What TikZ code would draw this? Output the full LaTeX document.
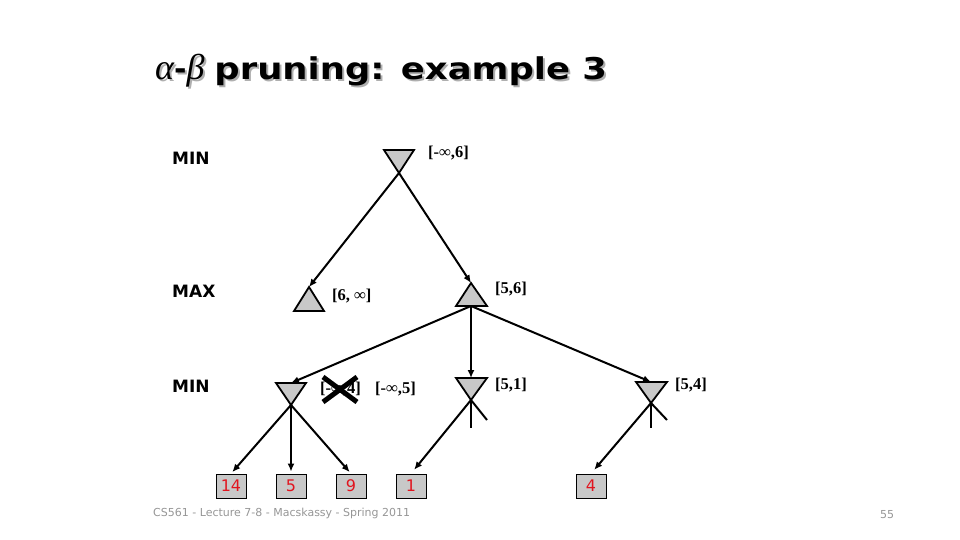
\documentclass[tikz,border=0pt]{standalone}
\usepackage{fontspec}
\setmainfont{DejaVu Sans}
\newfontfamily\tnr{Liberation Serif}
\usetikzlibrary{arrows.meta}
\definecolor{nodegray}{RGB}{200,200,200}
\definecolor{footgray}{RGB}{150,150,150}
\definecolor{leafred}{RGB}{225,20,30}
\definecolor{shadowgray}{RGB}{175,175,175}
\newcommand{\titletext}{{\tnr\itshape\fontsize{36}{36}\selectfont α}{\bfseries\fontsize{30}{30}\selectfont -}{\tnr\itshape\fontsize{36}{36}\selectfont β}\hspace{10pt}\scalebox{1.18}[1]{\bfseries\fontsize{30}{30}\selectfont pruning: example 3}}
\begin{document}
\begin{tikzpicture}[x=1pt,y=-1pt,
 tri/.style={draw=black,line width=1.8pt,fill=nodegray,line join=miter},
 edge/.style={draw=black,line width=2pt,-{Latex[length=8pt,width=7pt]}},
 stub/.style={draw=black,line width=2pt},
 leaf/.style={draw=black,line width=0.8pt,fill=nodegray,minimum width=30pt,minimum height=24pt,inner sep=0pt,text=leafred,font=\fontsize{16}{16}\selectfont},
 bound/.style={anchor=west,inner sep=0pt,font=\tnr\bfseries\fontsize{16.5}{16.5}\selectfont},
 level/.style={anchor=west,inner sep=0pt,font=\bfseries\fontsize{17}{17}\selectfont},
 foot/.style={anchor=west,inner sep=0pt,text=footgray,font=\fontsize{11}{11}\selectfont},
]
\useasboundingbox (0,0) rectangle (960,540);
% title
\node[anchor=base west,inner sep=0pt,text=shadowgray] (titleshadow) at (157,82) {\titletext};
\node[anchor=base west,inner sep=0pt] (title) at (155,80) {\titletext};
% level labels
\node[level] (lv1) at (172,158) {MIN};
\node[level] (lv2) at (172,291) {MAX};
\node[level] (lv3) at (172,386) {MIN};
% root MIN
\draw[tri] (384,150) -- (414,150) -- (399,173) -- cycle;
\coordinate (root) at (399,173);
% MAX nodes
\draw[tri] (309,287) -- (324,311) -- (294,311) -- cycle;
\coordinate (maxL) at (309,287);
\draw[tri] (471,283) -- (487,306) -- (456,306) -- cycle;
\coordinate (maxR) at (471,283);
\coordinate (maxRb) at (471,306);
% MIN nodes
\draw[tri] (276,383) -- (306,383) -- (291,405) -- cycle;
\coordinate (m1t) at (291,383);
\coordinate (m1a) at (291,405);
\draw[tri] (456,378) -- (487,378) -- (471,400) -- cycle;
\coordinate (m2t) at (471,378);
\coordinate (m2a) at (471,400);
\draw[tri] (636,382) -- (667,382) -- (651,403) -- cycle;
\coordinate (m3t) at (651,382);
\coordinate (m3a) at (651,403);
% leaves
\node[leaf] (l14) at (231,486) {14};
\node[leaf] (l5) at (291,486) {5};
\node[leaf] (l9) at (351,486) {9};
\node[leaf] (l1) at (411,486) {1};
\node[leaf] (l4) at (591,486) {4};
% edges
\draw[edge] (root) -- (maxL);
\draw[edge] (root) -- (maxR);
\draw[edge] (maxRb) -- (m1t);
\draw[edge] (maxRb) -- (m2t);
\draw[edge] (maxRb) -- (m3t);
\draw[edge,shorten >=2pt] (m1a) -- (l14.north);
\draw[edge,shorten >=2pt] (m1a) -- (l5.north);
\draw[edge,shorten >=2pt] (m1a) -- (l9.north);
\draw[edge,shorten >=5pt] (m2a) -- (l1.north);
\draw[edge,shorten >=5pt] (m3a) -- (l4.north);
% pruned stubs
\coordinate (p2v) at (471,428);
\coordinate (p2d) at (487,420);
\draw[stub] (m2a) -- (p2v);
\draw[stub] (m2a) -- (p2d);
\coordinate (p3v) at (651,428);
\coordinate (p3d) at (667,420);
\draw[stub] (m3a) -- (p3v);
\draw[stub] (m3a) -- (p3d);
% bounds
\node[bound] (b0) at (428,153) {[-∞,6]};
\node[bound] (b1) at (332,296) {[6, ∞]};
\node[bound] (b2) at (495,289) {[5,6]};
\node[bound] (b3) at (320,389) {[-∞,4]};
\node[bound] (b4) at (375,389) {[-∞,5]};
\node[bound] (b5) at (495,385) {[5,1]};
\node[bound] (b6) at (675,385) {[5,4]};
% cross over old bound
\draw[line width=5pt] (323,377) -- (357,402);
\draw[line width=5pt] (323,402) -- (357,377);
% footer
\node[foot] (footer) at (153,513) {CS561 - Lecture 7-8 - Macskassy - Spring 2011};
\node[foot] (page) at (880,515) {55};
\end{tikzpicture}
\end{document}
